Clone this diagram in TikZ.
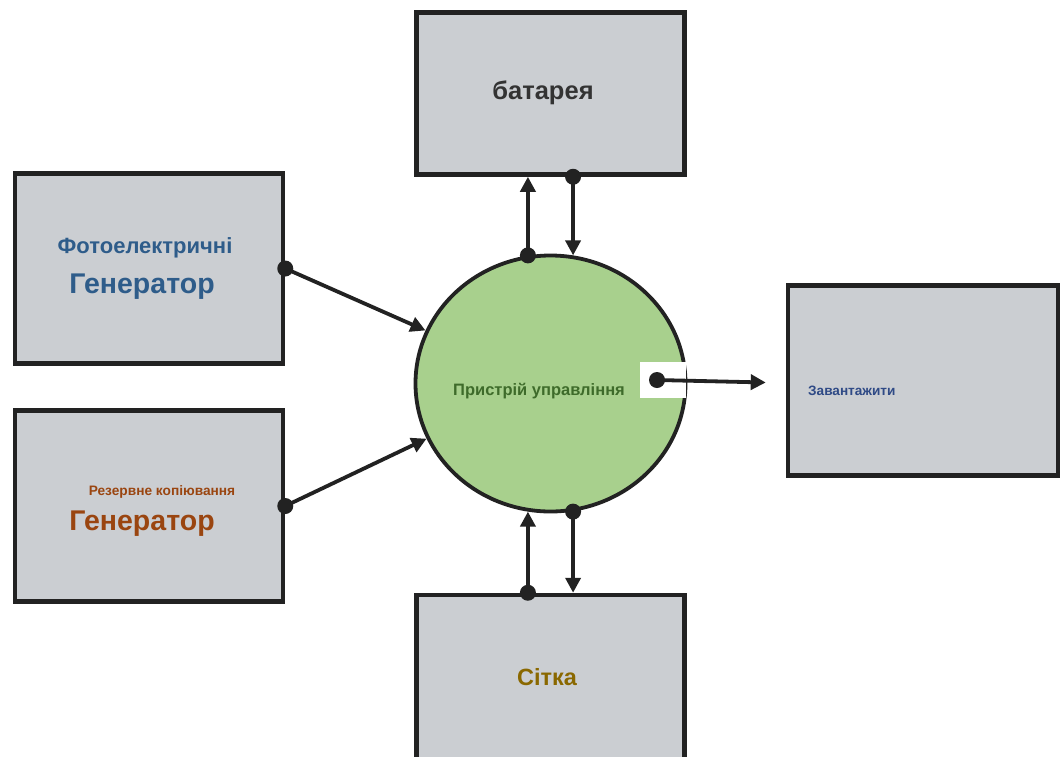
\documentclass[tikz,border=0pt]{standalone}
\usepackage{fontspec}
\setmainfont{Liberation Sans}
\usetikzlibrary{shapes.geometric,arrows.meta,calc,shadows}
\definecolor{boxfill}{HTML}{CBCED2}
\definecolor{circfill}{HTML}{A8D08D}
\definecolor{edge}{HTML}{222222}
\definecolor{tblue}{HTML}{2E5C8A}
\definecolor{tbrown}{HTML}{9A4510}
\definecolor{tgray}{HTML}{333333}
\definecolor{tgreen}{HTML}{3E6B2A}
\definecolor{tnavy}{HTML}{2F4A86}
\definecolor{tolive}{HTML}{8A6800}
\tikzset{
  blk/.style={draw=edge, line width=4.5pt, fill=boxfill, minimum width=268pt, minimum height=188pt, inner sep=0pt,
    drop shadow={shadow xshift=2pt, shadow yshift=-2pt, opacity=0.25}},
  conn/.style={draw=edge, line width=3.8pt, -{Triangle[length=15pt,width=15pt]}},
  dotc/.style={circle, fill=edge, inner sep=0pt, minimum size=16pt},
  lbl/.style={font=\bfseries, inner sep=0pt}
}
\begin{document}
\begin{tikzpicture}[x=1pt,y=-1pt]
\useasboundingbox (0,0) rectangle (1060,756);
\fill[white] (0,0) rectangle (1060,756);
% boxes
\node[blk, minimum height=162pt] (bat) at (550.5,93.5) {};
\node[blk, minimum height=190pt] (foto) at (149,268.5) {};
\node[blk, minimum height=191pt] (rez) at (149,506) {};
\node[blk, minimum width=270pt, minimum height=190pt] (load) at (923,380.5) {};
\node[blk, minimum height=180pt] (grid) at (550.5,685) {};
% circle
\node[ellipse, draw=edge, line width=3.8pt, fill=circfill, minimum width=270pt, minimum height=256pt, inner sep=0pt] (circ) at (550.5,383.5) {};
% labels
\node[lbl, text=tgray, font=\bfseries\fontsize{25.5}{30}\selectfont] (tbat) at (543,93) {батарея};
\node[lbl, text=tblue, font=\bfseries\fontsize{22}{26}\selectfont] (tfoto1) at (145,248) {Фотоелектричні};
\node[lbl, text=tblue, font=\bfseries\fontsize{28.5}{33}\selectfont] (tfoto2) at (142,287) {Генератор};
\node[lbl, text=tbrown, font=\bfseries\fontsize{13.7}{16}\selectfont] (trez1) at (162,492) {Резервне копіювання};
\node[lbl, text=tbrown, font=\bfseries\fontsize{28.5}{33}\selectfont] (trez2) at (142,524) {Генератор};
\node[lbl, text=tgreen, font=\bfseries\fontsize{16.5}{19}\selectfont] (tcirc) at (539,391) {Пристрій управління};
\node[lbl, text=tnavy, font=\bfseries\fontsize{13.6}{16}\selectfont, anchor=west] (tload) at (808,391) {Завантажити};
\node[lbl, text=tolive, font=\bfseries\fontsize{23.5}{28}\selectfont] (tgrid) at (547,677) {Сітка};
% battery connectors
\draw[conn] (circ.100) -- (circ.100 |- bat.south);
\node[dotc] (d1) at (circ.100) {};
\draw[conn] (circ.80 |- bat.south) -- (circ.80);
\node[dotc] (d2) at (circ.80 |- bat.south) {};
% grid connectors
\draw[conn] (circ.260 |- grid.north) -- (circ.260);
\node[dotc] (d3) at (circ.260 |- grid.north) {};
\draw[conn] (circ.280) -- (circ.280 |- grid.north);
\node[dotc] (d4) at (circ.280) {};
% generators
\draw[conn] (foto.east) -- (circ.157);
\node[dotc] (d5) at (foto.east) {};
\draw[conn] (rez.east) -- (circ.204);
\node[dotc] (d6) at (rez.east) {};
% output
\node[fill=white, minimum width=46pt, minimum height=36pt, inner sep=0pt] (gap) at (663,380) {};
\coordinate (outstart) at (657,380);
\coordinate (outend) at ([xshift=-20pt,yshift=-2pt]load.west);
\draw[conn] (outstart) -- (outend);
\node[dotc] (d7) at (outstart) {};
\end{tikzpicture}
\end{document}
